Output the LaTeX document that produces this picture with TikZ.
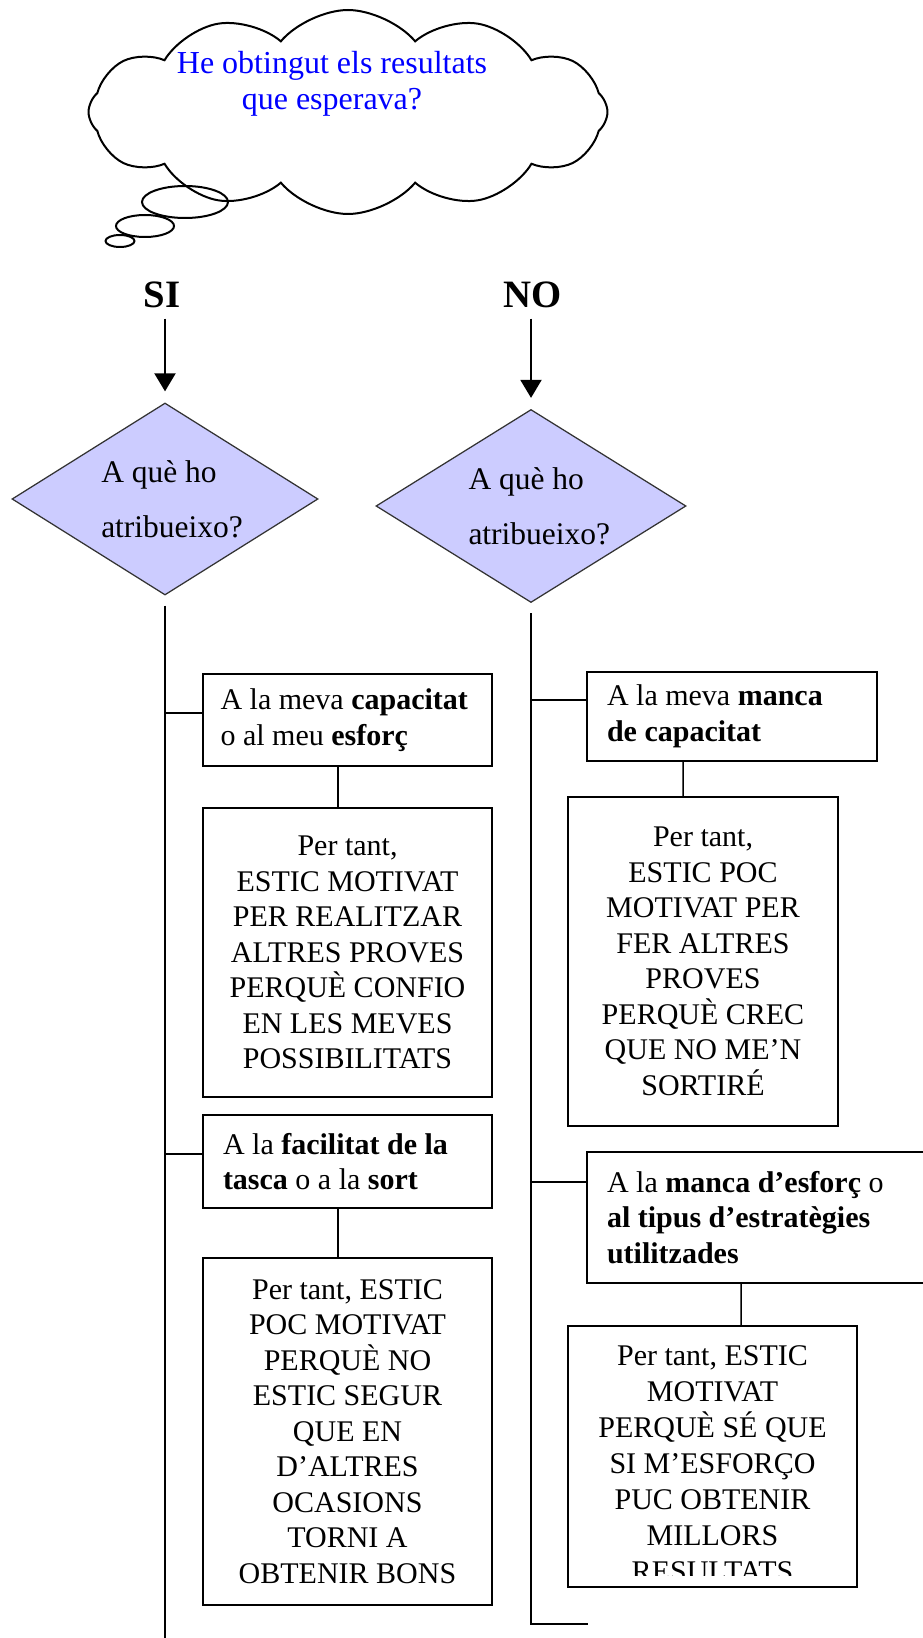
\documentclass[tikz,border=0pt]{standalone}
\usepackage{fontspec}
\setmainfont{Liberation Serif}
\usepackage{tikz}
\usetikzlibrary{shapes.geometric,shapes.symbols,arrows.meta}

\definecolor{lavender}{RGB}{204,204,255}
\definecolor{thoughtblue}{RGB}{0,0,255}

\tikzset{
	question/.style={diamond, draw=black!80, line width=0.5pt, fill=lavender, aspect=1.6, inner sep=0pt, align=flush left, font=\fontsize{12.6}{22}\selectfont},
	answer/.style={draw, line width=0.8pt, inner sep=0pt, font=\fontsize{12}{14.2}\selectfont},
	reason/.style={answer, align=flush left, inner xsep=8pt},
	consequence/.style={answer, align=center},
	bubble/.style={ellipse, draw, line width=0.8pt, inner sep=0pt},
	choice/.style={font=\fontsize{15.5}{18}\selectfont\bfseries, inner sep=2pt},
	pointer/.style={line width=0.8pt, -{Triangle[length=7.2pt, width=8.4pt]}, shorten <=2pt, shorten >=4.4pt},
	link/.style={line width=0.6pt},
	trunk/.style={line width=0.8pt, shorten <=4pt},
}

\begin{document}
\begin{tikzpicture}[x=0.4pt, y=-0.4pt]
	% Positions are pixels of the scanned page, y grows downwards.
	\useasboundingbox (0, 0) rectangle (922, 1638);
	\node(thought) [cloud, draw, line width=0.8pt, cloud puffs=12, cloud puff arc=100, cloud ignores aspect, minimum width=207.6pt, minimum height=81.6pt, inner sep=0pt] at (348, 112) {};
	\node(bubbleA) [bubble, minimum width=34.4pt, minimum height=12.8pt] at (185, 202) {};
	\node(bubbleB) [bubble, minimum width=23.2pt, minimum height=8.8pt] at (145, 226) {};
	\node(bubbleC) [bubble, minimum width=11.6pt, minimum height=4.8pt] at (120, 241) {};
	\node(thoughtText) [text=thoughtblue, align=center, font=\fontsize{12.8}{14.6}\selectfont] at (332, 84) {He obtingut els resultats\\que esperava?};
	\node(si) [choice] at (162, 295) {SI};
	\node(no) [choice] at (533, 295) {NO};
	\node(siQ) [question, text width=51pt, minimum width=122.4pt, minimum height=76.8pt] at (165, 499) {A què ho\\atribueixo?};
	\node(noQ) [question, text width=50pt, minimum width=124pt, minimum height=77.2pt] at (531, 506) {A què ho\\atribueixo?};
	\draw[pointer] (si.south -| siQ.north) -- (siQ.north);
	\draw[pointer] (no.south -| noQ.north) -- (noQ.north);
	\node(siA) [reason, inner xsep=7pt, text width=101.6pt, minimum height=36.8pt] at (347.5, 720) {A la meva \textbf{capacitat}\\o al meu \textbf{esforç}};
	\node(siB) [consequence, minimum width=115.6pt, minimum height=115.6pt] at (347.5, 952.5) {Per tant,\\ESTIC MOTIVAT\\PER REALITZAR\\ALTRES PROVES\\PERQUÈ CONFIO\\EN LES MEVES\\POSSIBILITATS};
	\node(siC) [reason, text width=99.6pt, minimum height=37.2pt] at (347.5, 1161.5) {A la \textbf{facilitat de la}\\\textbf{tasca} o a la \textbf{sort}};
	\node(siD) [consequence, minimum width=115.6pt, minimum height=138.8pt] at (347.5, 1431.5) {Per tant, ESTIC\\POC MOTIVAT\\PERQUÈ NO\\ESTIC SEGUR\\QUE EN\\D’ALTRES\\OCASIONS\\TORNI A\\OBTENIR BONS};
	\node(noA) [reason, text width=100pt, minimum height=35.6pt] at (732, 716.5) {A la meva \textbf{manca}\\\textbf{de capacitat}};
	\node(noB) [consequence, minimum width=108pt, minimum height=131.6pt] at (703, 961.5) {Per tant,\\ESTIC POC\\MOTIVAT PER\\FER ALTRES\\PROVES\\PERQUÈ CREC\\QUE NO ME’N\\SORTIRÉ};
	\node(noC) [reason, text width=133.2pt, minimum height=52.4pt] at (773.5, 1217.5) {A la \textbf{manca d’esforç} o\\\textbf{al tipus d’estratègies}\\\textbf{utilitzades}};
	\node(noD) [consequence, minimum width=115.6pt, minimum height=104.4pt] at (712.5, 1456.5) {};
	\begin{scope}
		\clip ([yshift=5pt]noD.south west) rectangle (noD.north east);
		\node(noDtext) [anchor=north, align=center, inner sep=0pt, font=\fontsize{12}{14.4}\selectfont] at (712.5, 1345) {Per tant, ESTIC\\MOTIVAT\\PERQUÈ SÉ QUE\\SI M’ESFORÇO\\PUC OBTENIR\\MILLORS\\RESULTATS};
	\end{scope}
	\coordinate(siFoot) at (165, 1650);
	\coordinate(noFoot) at (588, 1624);
	\coordinate(siAjoin) at (165, 713);
	\coordinate(siCjoin) at (165, 1154);
	\coordinate(noAjoin) at (531, 700);
	\coordinate(noCjoin) at (531, 1182);
	\draw[trunk] (siQ.south) -- (siFoot);
	\draw[trunk] (noQ.south) |- (noFoot);
	\draw[link] (siAjoin) -- (siAjoin -| siA.west);
	\draw[link] (siCjoin) -- (siCjoin -| siC.west);
	\draw[link] (noAjoin) -- (noAjoin -| noA.west);
	\draw[link] (noCjoin) -- (noCjoin -| noC.west);
	\draw[link] ([xshift=-3.8pt]siA.south) -- ([xshift=-3.8pt]siB.north);
	\draw[link] ([xshift=-3.8pt]siC.south) -- ([xshift=-3.8pt]siD.north);
	\draw[link] ([xshift=-19.6pt]noA.south) -- ([xshift=-8pt]noB.north);
	\draw[link] ([xshift=-13pt]noC.south) -- ([xshift=11.4pt]noD.north);
\end{tikzpicture}
\end{document}
